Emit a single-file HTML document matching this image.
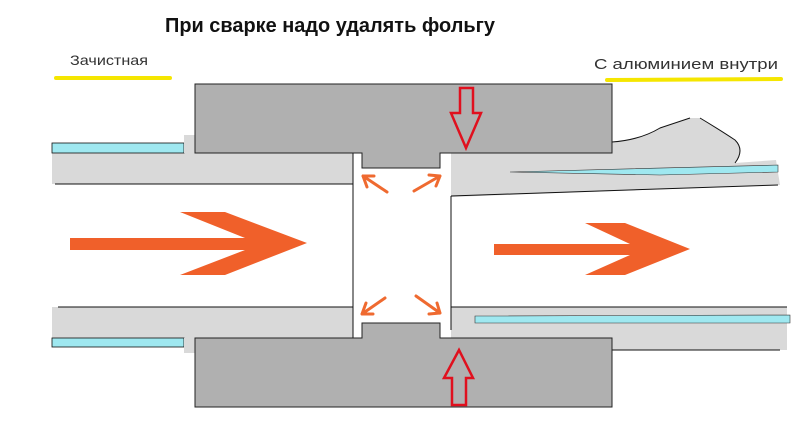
<!DOCTYPE html>
<html><head><meta charset="utf-8"><style>html,body{margin:0;padding:0;background:#fff;}svg{display:block}</style></head>
<body>
<svg width="806" height="439" viewBox="0 0 806 439" xmlns="http://www.w3.org/2000/svg" font-family="Liberation Sans, DejaVu Sans, sans-serif">
<rect width="806" height="439" fill="#fff"/>
<text x="165" y="32" font-size="20" font-weight="bold" fill="#111" textLength="330" lengthAdjust="spacingAndGlyphs">При сварке надо удалять фольгу</text>
<text x="70" y="65" font-size="14" fill="#333" textLength="78" lengthAdjust="spacingAndGlyphs">Зачистная</text>
<line x1="56" y1="78" x2="170" y2="78" stroke="#f5e600" stroke-width="4" stroke-linecap="round"/>
<text x="594" y="69" font-size="15" fill="#333" textLength="184" lengthAdjust="spacingAndGlyphs">С алюминием внутри</text>
<line x1="607" y1="80" x2="781" y2="79" stroke="#f5e600" stroke-width="4" stroke-linecap="round"/>

<!-- left pipe -->
<rect x="52" y="153" width="301" height="31" fill="#d9d9d9"/>
<rect x="52" y="307" width="301" height="31" fill="#d9d9d9"/>
<line x1="55" y1="184" x2="353" y2="184" stroke="#111" stroke-width="1"/>
<line x1="58" y1="307" x2="353" y2="307" stroke="#111" stroke-width="1"/>
<line x1="353" y1="153" x2="353" y2="338" stroke="#111" stroke-width="1"/>
<rect x="52" y="143" width="132" height="10" fill="#9fe8f0" stroke="#111" stroke-width="0.8"/>
<rect x="52" y="338" width="132" height="9" fill="#9fe8f0" stroke="#111" stroke-width="0.8"/>
<rect x="184" y="135" width="11" height="18" fill="#d9d9d9"/>
<rect x="184" y="338" width="11" height="15" fill="#d9d9d9"/>

<!-- right pipe -->
<path d="M451 153 L612 153 L612 142 Q640 140 660 128 L690 118 L700 118 Q720 130 735 140 Q745 150 735 163 L776 160 L780 185 L451 197 Z" fill="#d9d9d9"/>
<path d="M612 142 Q640 140 660 128 L690 118 M700 118 Q720 130 735 140 Q745 150 735 163" fill="none" stroke="#111" stroke-width="1"/>
<path d="M510 172 L778 165 L778 172 L660 175 Z" fill="#9fe8f0" stroke="#333" stroke-width="0.6"/>
<line x1="451" y1="196" x2="778" y2="185" stroke="#111" stroke-width="1"/>
<rect x="451" y="307" width="336" height="43" fill="#d9d9d9"/>
<path d="M475 316 L790 315 L790 323 L475 323 Z" fill="#9fe8f0" stroke="#333" stroke-width="0.6"/>
<line x1="451" y1="307" x2="787" y2="307" stroke="#111" stroke-width="1"/>
<line x1="610" y1="350" x2="780" y2="350" stroke="#111" stroke-width="1"/>
<line x1="451" y1="196" x2="451" y2="330" stroke="#111" stroke-width="1"/>

<!-- dies -->
<path d="M195 84 L612 84 L612 153 L440 153 L440 168 L362 168 L362 153 L195 153 Z" fill="#b0b0b0" stroke="#222" stroke-width="1"/>
<path d="M195 407 L612 407 L612 338 L440 338 L440 323 L362 323 L362 338 L195 338 Z" fill="#b0b0b0" stroke="#222" stroke-width="1"/>

<!-- red arrows -->
<path d="M460 88 L473 88 L473 113 L481 113 L466 148 L451 113 L460 113 Z" fill="#b0b0b0" stroke="#e0101e" stroke-width="2.5"/>
<path d="M452 405 L466 405 L466 378 L473 378 L459 350 L444 378 L452 378 Z" fill="#b0b0b0" stroke="#e0101e" stroke-width="2.5"/>

<!-- big arrows -->
<path d="M70 238 L245 238 L180 212 L225 212 L307 243 L225 275 L180 275 L245 250 L70 250 Z" fill="#f0602a"/>
<path d="M494 244 L630 244 L585 223 L625 223 L690 249 L625 275 L585 275 L630 255 L494 255 Z" fill="#f0602a"/>

<!-- small arrows -->
<g stroke="#ef6a30" stroke-width="3" fill="none" stroke-linecap="round">
<path d="M387 192 L363 176 M363 176 L374 176 M363 176 L367 187"/>
<path d="M414 191 L440 176 M440 176 L429 175 M440 176 L436 186"/>
<path d="M385 298 L362 314 M362 314 L373 314 M362 314 L366 303"/>
<path d="M416 296 L440 313 M440 313 L429 314 M440 313 L437 303"/>
</g>
</svg>
</body></html>
